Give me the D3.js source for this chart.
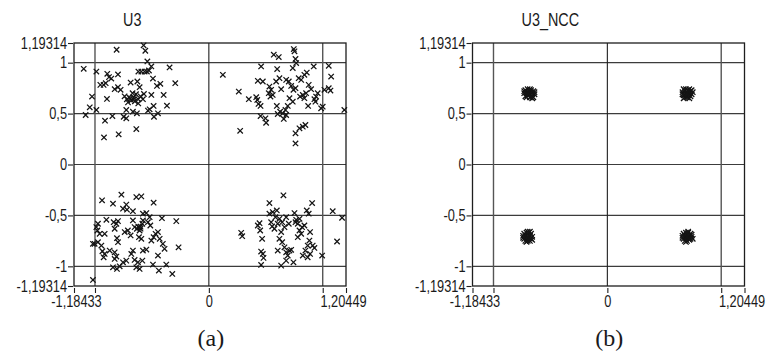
<!DOCTYPE html>
<html>
<head>
<meta charset="utf-8">
<script src="https://cdn.jsdelivr.net/npm/d3@7"></script>
<style>
  html, body { margin: 0; padding: 0; background: #fff; }
  svg { display: block; }
  .lbl { font-family: "Liberation Sans", Arial, sans-serif; fill: #1a1a1a; }
  .cap { font-family: "Liberation Serif", "Times New Roman", serif; fill: #1a1a1a; }
</style>
</head>
<body>
<svg id="chart" width="767" height="354"></svg>
<script>
// ---- axis definitions ----
const xDomain = [-1.18433, 1.20449];
const yDomain = [-1.19314, 1.19314];
const xTicks = [-1.18433, -1, 0, 1, 1.20449];
const xTickLabels = ["-1,18433", "", "0", "", "1,20449"];
const yTicks = [1.19314, 1, 0.5, 0, -0.5, -1, -1.19314];
const yTickLabels = ["1,19314", "1", "0,5", "0", "-0,5", "-1", "-1,19314"];
const gridX = [-1, 0, 1];
const gridY = [1, 0.5, 0, -0.5, -1];
const titles = ["U3", "U3_NCC"];
const captions = ["(a)", "(b)"];

// ---- U3 (panel a) received symbols, by quadrant ----
const u3TopLeft = [
  [-1.099,0.940],[-0.988,0.913],[-0.810,1.127],[-0.573,1.170],[-0.558,1.117],[-0.540,1.012],
  [-0.505,0.963],[-0.526,0.923],[-0.345,0.953],[-0.295,0.799],[-0.892,0.891],[-0.877,0.858],
  [-0.857,0.844],[-0.798,0.884],[-0.953,0.782],[-0.924,0.782],[-0.906,0.799],[-0.619,0.913],
  [-0.593,0.913],[-0.564,0.913],[-0.544,0.913],[-0.491,0.844],[-0.456,0.772],[-0.426,0.792],
  [-0.687,0.805],[-0.628,0.815],[-0.608,0.759],[-0.827,0.740],[-0.798,0.759],[-0.775,0.733],
  [-1.026,0.667],[-0.895,0.644],[-1.046,0.562],[-1.082,0.486],[-0.988,0.536],
  [-0.74,0.67],[-0.70,0.66],[-0.66,0.66],[-0.62,0.64],[-0.68,0.63],[-0.65,0.62],[-0.72,0.64],
  [-0.60,0.67],[-0.64,0.69],[-0.67,0.70],[-0.71,0.61],[-0.62,0.60],[-0.69,0.65],[-0.66,0.64],
  [-0.570,0.693],[-0.505,0.683],[-0.579,0.641],[-0.397,0.683],[-0.368,0.578],[-0.485,0.575],
  [-0.520,0.542],[-0.535,0.529],[-0.447,0.503],[-0.482,0.469],[-0.632,0.503],[-0.725,0.536],
  [-0.667,0.519],[-0.748,0.469],[-0.725,0.454],[-0.847,0.476],[-0.912,0.430],[-0.637,0.348],
  [-0.792,0.296],[-0.921,0.266]
];
const u3TopRight = [
  [0.123,0.881],[0.263,0.716],[0.275,0.331],[0.351,0.641],[0.416,0.661],[0.425,0.634],
  [0.436,0.595],[0.454,0.575],[0.430,0.822],[0.474,0.815],[0.459,0.963],[0.454,0.476],
  [0.497,0.454],[0.503,0.410],[0.532,0.765],[0.547,0.733],[0.526,0.700],[0.561,0.683],
  [0.541,0.667],[0.570,1.078],[0.614,1.055],[0.600,0.937],[0.591,0.815],[0.620,0.848],
  [0.635,0.740],[0.679,0.831],[0.702,0.815],[0.597,0.575],[0.605,0.496],[0.626,0.519],
  [0.649,0.503],[0.673,0.536],[0.679,0.486],[0.658,0.447],[0.746,1.134],[0.752,1.111],
  [0.761,1.036],[0.767,0.996],[0.737,0.947],[0.723,0.772],[0.743,0.733],[0.761,0.749],
  [0.708,0.651],[0.737,0.617],[0.693,0.575],[0.789,0.848],[0.811,0.831],[0.839,0.881],
  [0.860,0.903],[0.801,0.667],[0.825,0.683],[0.839,0.651],[0.854,0.700],[0.877,0.782],
  [0.898,0.740],[0.872,0.575],[0.921,0.963],[0.927,0.641],[0.942,0.667],[0.956,0.700],
  [0.936,0.617],[0.761,0.306],[0.796,0.355],[0.825,0.371],[0.848,0.388],[0.761,0.207],
  [1.000,0.568],[0.986,0.552],[1.015,0.733],[1.053,0.749],[1.068,0.726],[1.053,0.969],
  [1.074,0.864],[1.190,0.536]
];
const u3BottomLeft = [
  [-0.938,-0.352],[-0.842,-0.385],[-0.768,-0.296],[-0.637,-0.320],[-0.593,-0.313],[-0.485,-0.375],
  [-0.725,-0.394],[-0.754,-0.434],[-0.719,-0.444],[-0.667,-0.458],[-0.974,-0.582],[-0.988,-0.615],
  [-0.979,-0.648],[-0.959,-0.681],[-1.003,-0.779],[-0.974,-0.763],[-0.944,-0.796],[-0.900,-0.543],
  [-0.836,-0.566],[-0.812,-0.582],[-0.798,-0.556],[-0.827,-0.631],[-0.915,-0.681],[-0.807,-0.724],
  [-0.798,-0.763],[-0.935,-0.852],[-0.915,-0.878],[-0.924,-0.911],[-0.871,-0.845],[-0.827,-0.862],
  [-0.812,-0.904],[-0.827,-0.927],[-0.842,-1.010],[-0.807,-1.026],[-0.783,-1.000],[-0.754,-0.961],
  [-0.725,-0.944],[-0.739,-0.664],[-0.711,-0.648],[-0.687,-0.697],[-0.667,-0.549],[-0.652,-0.615],
  [-0.632,-0.631],[-0.608,-0.648],[-0.614,-0.714],[-0.593,-0.730],[-0.61,-0.62],[-0.60,-0.63],
  [-0.62,-0.61],[-0.60,-0.61],[-0.579,-0.483],[-0.549,-0.477],[-0.520,-0.517],[-0.535,-0.566],
  [-0.514,-0.599],[-0.579,-0.549],[-0.584,-0.582],[-0.667,-0.845],[-0.681,-0.878],[-0.652,-0.937],
  [-0.623,-0.961],[-0.637,-1.010],[-0.608,-1.026],[-0.579,-0.845],[-0.549,-0.835],[-0.584,-0.944],
  [-0.505,-0.747],[-0.485,-0.714],[-0.468,-0.681],[-0.447,-0.664],[-0.432,-0.730],[-0.404,-0.779],
  [-0.389,-0.828],[-0.447,-0.894],[-0.491,-0.983],[-0.439,-1.042],[-0.374,-0.983],[-0.321,-1.075],
  [-0.412,-0.527],[-0.286,-0.556],[-0.266,-0.813],[-1.018,-1.134],[-1.018,-0.779]
];
const u3BottomRight = [
  [0.655,-0.303],[0.532,-0.379],[0.907,-0.379],[0.284,-0.671],[0.293,-0.704],[0.445,-0.576],
  [0.430,-0.599],[0.451,-0.648],[0.468,-0.730],[0.459,-0.855],[0.474,-0.878],[0.480,-0.917],
  [0.459,-0.986],[0.532,-0.483],[0.561,-0.467],[0.597,-0.451],[0.585,-0.517],[0.547,-0.566],
  [0.556,-0.608],[0.576,-0.631],[0.605,-0.582],[0.620,-0.533],[0.644,-0.566],[0.664,-0.615],
  [0.635,-0.664],[0.679,-0.517],[0.702,-0.582],[0.620,-0.730],[0.644,-0.763],[0.605,-0.845],
  [0.664,-0.813],[0.679,-0.862],[0.708,-0.845],[0.693,-0.894],[0.723,-0.838],[0.679,-0.944],
  [0.635,-0.993],[0.743,-0.961],[0.752,-0.477],[0.767,-0.543],[0.781,-0.582],[0.761,-0.566],
  [0.796,-0.533],[0.819,-0.615],[0.796,-0.648],[0.811,-0.681],[0.839,-0.599],[0.781,-0.714],
  [0.860,-0.451],[0.877,-0.483],[0.889,-0.664],[0.883,-0.747],[0.868,-0.796],[0.912,-0.796],
  [0.927,-0.819],[0.848,-0.845],[0.825,-0.894],[0.868,-0.911],[0.889,-0.878],[0.995,-0.894],
  [1.088,-0.458],[1.170,-0.523],[1.126,-0.756]
];

// ---- U3_NCC (panel b) received symbols, by quadrant ----
const nccTopLeft = [
  [-0.72,0.73],[-0.70,0.74],[-0.67,0.73],[-0.65,0.72],[-0.73,0.70],[-0.71,0.71],[-0.69,0.72],
  [-0.66,0.70],[-0.64,0.69],[-0.72,0.67],[-0.70,0.68],[-0.68,0.69],[-0.66,0.67],[-0.71,0.66],
  [-0.68,0.66],[-0.65,0.66],[-0.69,0.70],[-0.67,0.71],[-0.70,0.70],[-0.64,0.71],[-0.73,0.72],
  [-0.68,0.74],[-0.66,0.65]
];
const nccTopRight = [
  [0.67,0.74],[0.69,0.74],[0.71,0.73],[0.73,0.72],[0.66,0.71],[0.68,0.72],[0.70,0.71],
  [0.72,0.70],[0.74,0.69],[0.67,0.68],[0.69,0.69],[0.71,0.68],[0.73,0.67],[0.68,0.66],
  [0.70,0.66],[0.72,0.65],[0.66,0.69],[0.70,0.70],[0.75,0.71],[0.69,0.67],[0.72,0.74],
  [0.67,0.65],[0.74,0.73]
];
const nccBottomLeft = [
  [-0.73,-0.68],[-0.71,-0.67],[-0.69,-0.67],[-0.67,-0.68],[-0.74,-0.70],[-0.72,-0.70],
  [-0.70,-0.69],[-0.68,-0.70],[-0.66,-0.71],[-0.73,-0.73],[-0.71,-0.72],[-0.69,-0.72],
  [-0.67,-0.73],[-0.72,-0.75],[-0.70,-0.75],[-0.68,-0.75],[-0.70,-0.71],[-0.66,-0.74],
  [-0.74,-0.72],[-0.70,-0.66],[-0.71,-0.76],[-0.68,-0.66]
];
const nccBottomRight = [
  [0.67,-0.68],[0.69,-0.67],[0.71,-0.67],[0.73,-0.68],[0.66,-0.70],[0.68,-0.70],
  [0.70,-0.69],[0.72,-0.70],[0.74,-0.71],[0.67,-0.73],[0.69,-0.72],[0.71,-0.72],
  [0.73,-0.73],[0.68,-0.75],[0.70,-0.75],[0.72,-0.74],[0.70,-0.71],[0.74,-0.69],
  [0.66,-0.72],[0.71,-0.66],[0.69,-0.76],[0.75,-0.73]
];

const panels = [
  { title: titles[0], caption: captions[0], left: 74, points: [].concat(u3TopLeft, u3TopRight, u3BottomLeft, u3BottomRight) },
  { title: titles[1], caption: captions[1], left: 472.5, points: [].concat(nccTopLeft, nccTopRight, nccBottomLeft, nccBottomRight) }
];

const W = 272, H = 243, TOP = 43;
const SX = 0.8; // horizontal compression to mimic a narrow sans face
const svg = d3.select("#chart");
const cross = "M-2.7,-2.7L2.7,2.7M-2.7,2.7L2.7,-2.7";
// small label nudges (px) so edge labels sit as in the reference
const xLabelShift = [2, 0, 0, 0, -3];

panels.forEach(p => {
  const g = svg.append("g").attr("transform", `translate(${p.left},${TOP})`);
  const x = d3.scaleLinear().domain(xDomain).range([0, W]);
  const y = d3.scaleLinear().domain(yDomain).range([H, 0]);

  // grid
  g.selectAll(".gy").data(gridY).join("line")
    .attr("x1", 0).attr("x2", W)
    .attr("y1", d => y(d)).attr("y2", d => y(d))
    .attr("stroke", "#3c3c3c").attr("stroke-width", 1.1);
  g.selectAll(".gx").data(gridX).join("line")
    .attr("y1", 0).attr("y2", H)
    .attr("x1", d => x(d)).attr("x2", d => x(d))
    .attr("stroke", d => d === 0 ? "#1e1e1e" : "#555").attr("stroke-width", d => d === 0 ? 1.1 : 1.4);

  // frame
  g.append("rect").attr("x", 0).attr("y", 0).attr("width", W).attr("height", H)
    .attr("fill", "none").attr("stroke", "#1e1e1e").attr("stroke-width", 1.3);

  // axes
  const ya = d3.axisLeft(y).tickValues(yTicks).tickSize(5).tickPadding(1)
    .tickFormat((d, i) => yTickLabels[i]);
  const yg = g.append("g").attr("transform", "translate(-1,0)").call(ya);
  yg.select(".domain").remove();
  yg.selectAll("line").attr("stroke", "#1e1e1e").attr("stroke-width", 1.1);
  yg.selectAll("text").attr("class", "lbl").style("font-size", "16px").attr("fill", "#1a1a1a")
    .attr("x", null).attr("transform", `translate(-6,0) scale(${SX},1)`);

  const xa = d3.axisBottom(x).tickValues(xTicks).tickSize(5).tickPadding(3)
    .tickFormat((d, i) => xTickLabels[i]);
  const xg = g.append("g").attr("transform", `translate(0,${H + 2})`).call(xa);
  xg.select(".domain").remove();
  xg.selectAll("line").attr("stroke", "#1e1e1e").attr("stroke-width", 1.1);
  xg.selectAll("text").attr("class", "lbl").style("font-size", "16px").attr("fill", "#1a1a1a")
    .attr("transform", (d, i) => `translate(${xLabelShift[i]},0) scale(${SX},1)`);

  // points
  g.append("g").selectAll("path").data(p.points).join("path")
    .attr("d", cross)
    .attr("transform", d => `translate(${x(d[0])},${y(d[1])})`)
    .attr("fill", "none").attr("stroke", "#141414").attr("stroke-width", 1.25);

  // title
  svg.append("g").attr("transform", `translate(${p.left + 49},26) scale(${SX},1)`)
    .append("text").attr("class", "lbl")
    .style("font-size", "18px").text(p.title);

  // caption
  svg.append("text").attr("class", "cap")
    .attr("x", p.left + x(0) + 2).attr("y", 346)
    .attr("text-anchor", "middle")
    .style("font-size", "24px").text(p.caption);
});
</script>
</body>
</html>
